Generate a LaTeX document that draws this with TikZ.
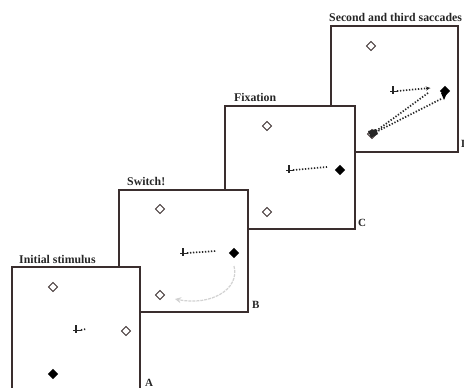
\documentclass[tikz,border=0pt]{standalone}
\usepackage{fontspec}
\setmainfont{Liberation Serif}
\usetikzlibrary{shapes.geometric,arrows.meta}
\definecolor{framec}{HTML}{3A2E2E}
\definecolor{swoosh}{HTML}{D2D2D2}
\begin{document}
\begin{tikzpicture}[x=1pt,y=-1pt,
  panel/.style={draw=framec,line width=1.2pt,fill=white},
  odiam/.style={diamond,draw=framec,line width=0.9pt,fill=white,minimum size=9.5pt,inner sep=0pt},
  fdiam/.style={diamond,fill=black,minimum size=10.5pt,inner sep=0pt},
  ttl/.style={font=\bfseries\fontsize{11.8}{13}\selectfont,anchor=base west,inner sep=0pt,text=black!85},
  plab/.style={font=\bfseries\fontsize{11}{13}\selectfont,anchor=base west,inner sep=0pt,text=black!85},
  trace/.style={line width=1.7pt,dash pattern=on 1.3pt off 1.7pt,black!85},
  fixmark/.pic={\draw[line width=1.5pt,black!85] (0,-4)--(0,4) (-3,1.5)--(5,1.5);}
]
\useasboundingbox (0,0) rectangle (464,388);

% ---------- Panel D ----------
\draw[panel] (331,26) rectangle (458,152);
\node[ttl] (tD) at (329,21) {Second and third saccades};
\node[plab] (lD) at (461,147) {D};
\node[odiam] (dD1) at (371,46) {};
\node[odiam] (dD2) at (372,134) {};
\fill[black!85] (368,131) -- (376,129) -- (378,134) -- (371,138) -- cycle;
\node[fdiam] (dD3) at (445,91) {};
\fill[black] (441,93) -- (444,100) -- (447,93) -- cycle;
\coordinate (fD) at (393,90);
\coordinate (eD) at (430,88);
\pic at (fD) {fixmark};
\draw[trace] (397,91) -- (eD);
\draw[line width=1pt,black!85,-{Stealth[length=4pt,width=4pt]}] (426,88.5) -- (eD);
\draw[trace] (428,93) -- (dD2);
\draw[trace] (441,99) -- (dD2);

% ---------- Panel C ----------
\draw[panel] (225,106) rectangle (355,229);
\node[ttl] (tC) at (234,101) {Fixation};
\node[plab] (lC) at (358,226) {C};
\node[odiam] (dC1) at (267,126) {};
\node[odiam] (dC2) at (267,212) {};
\node[fdiam] (dC3) at (340,170) {};
\coordinate (fC) at (289,169);
\coordinate (eC) at (327,167);
\pic at (fC) {fixmark};
\draw[trace] (293,170) -- (eC);

% ---------- Panel B ----------
\draw[panel] (119,190) rectangle (248,312);
\node[ttl] (tB) at (127,185) {Switch!};
\node[plab] (lB) at (252,308) {B};
\node[odiam] (dB1) at (160,209) {};
\node[odiam] (dB2) at (160,295) {};
\node[fdiam] (dB3) at (234,253) {};
\coordinate (fB) at (183,252);
\coordinate (eB) at (216,251);
\pic at (fB) {fixmark};
\draw[trace] (187,253) -- (eB);
\coordinate (sB) at (234,266);
\coordinate (gB) at (175,299);
\draw[swoosh,line width=1.2pt,dash pattern=on 3pt off 1pt,-{Stealth[length=6pt,width=6pt]}]
  (sB) .. controls (240,290) and (210,306) .. (gB);

% ---------- Panel A ----------
\draw[panel] (12,267) rectangle (140,400);
\node[ttl] (tA) at (19,263) {Initial stimulus};
\node[plab] (lA) at (145,386) {A};
\node[odiam] (dA1) at (53,287) {};
\node[odiam] (dA2) at (126,331) {};
\node[fdiam] (dA3) at (53,374) {};
\coordinate (fA) at (76,329);
\coordinate (eA) at (86,329);
\pic at (fA) {fixmark};
\draw[trace] (81,330) -- (eA);
\end{tikzpicture}
\end{document}
